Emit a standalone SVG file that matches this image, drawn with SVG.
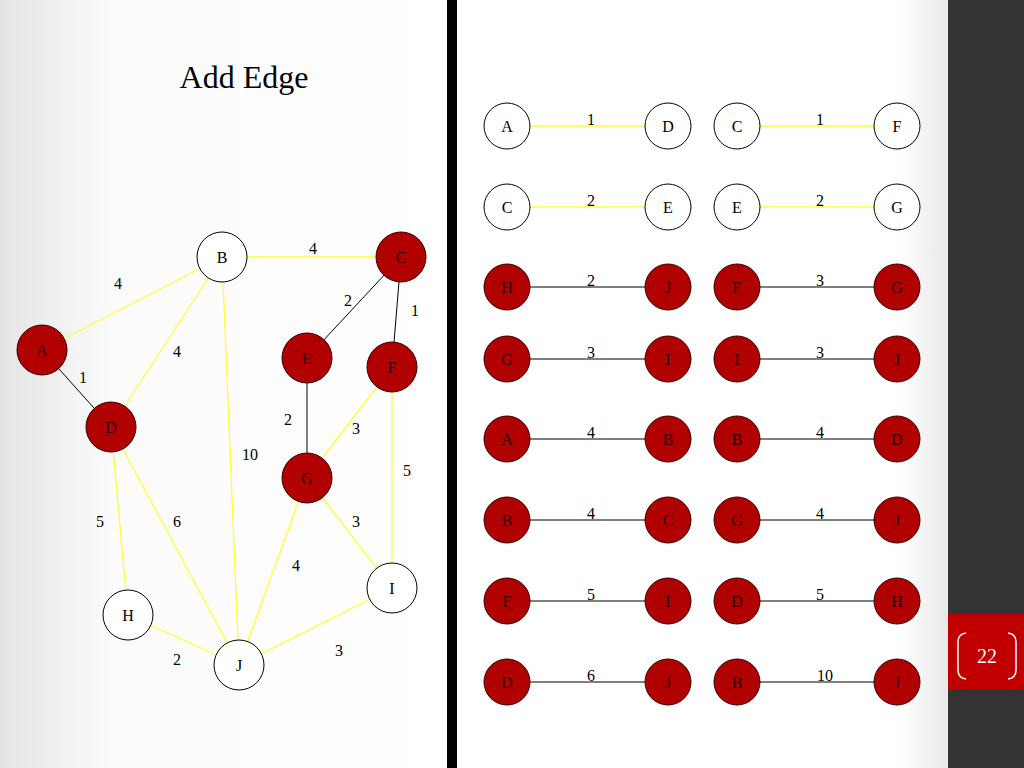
<svg xmlns="http://www.w3.org/2000/svg" width="1024" height="768" viewBox="0 0 1024 768">
<defs>
<linearGradient id="bgL" x1="0" y1="0" x2="1" y2="0">
<stop offset="0" stop-color="#e4e4e4"/><stop offset="0.25" stop-color="#fbfbfb"/><stop offset="1" stop-color="#ffffff"/>
</linearGradient>
<linearGradient id="bgR" x1="0" y1="0" x2="1" y2="0">
<stop offset="0" stop-color="#ffffff"/><stop offset="0.9" stop-color="#ffffff"/><stop offset="1" stop-color="#e8e8e8"/>
</linearGradient>
<style>
.w{fill:#ffffff;stroke:#000;stroke-width:1}
.r{fill:#b00000;stroke:#300;stroke-width:1}
.t{font-family:"Liberation Serif",serif;font-size:16px;text-anchor:middle;fill:#000}
.tr{font-family:"Liberation Serif",serif;font-size:16px;text-anchor:middle;fill:#2a0000}
.y{stroke:#ffff33;stroke-width:1.3;fill:none}
.k{stroke:#000;stroke-width:1;fill:none}
.lb{font-family:"Liberation Serif",serif;font-size:16px;text-anchor:middle;fill:#000}
</style>
</defs>
<rect x="0" y="0" width="447" height="768" fill="url(#bgL)"/>
<rect x="457" y="0" width="491" height="768" fill="url(#bgR)"/>
<rect x="447" y="0" width="10" height="768" fill="#000"/>
<rect x="948" y="0" width="76" height="768" fill="#333333"/>
<rect x="948" y="614" width="76" height="76" fill="#c00000"/>
<path d="M966,633 Q958,634 958,642 L958,670 Q958,678 966,679" fill="none" stroke="#fff" stroke-width="1.5"/>
<path d="M1008,633 Q1016,634 1016,642 L1016,670 Q1016,678 1008,679" fill="none" stroke="#fff" stroke-width="1.5"/>
<text x="987" y="663" font-family="Liberation Serif,serif" font-size="20" fill="#fff" text-anchor="middle">22</text>
<text x="244" y="88" font-family="Liberation Serif,serif" font-size="32" fill="#000" text-anchor="middle">Add Edge</text>

<g id="connectors">
<line class="y" x1="42" y1="350" x2="222" y2="257"/>
<line class="k" x1="42" y1="350" x2="111" y2="427"/>
<line class="y" x1="222" y1="257" x2="111" y2="427"/>
<line class="y" x1="222" y1="257" x2="401" y2="257"/>
<line class="y" x1="222" y1="257" x2="239" y2="665"/>
<line class="k" x1="401" y1="257" x2="307" y2="358"/>
<line class="k" x1="401" y1="257" x2="392" y2="367"/>
<line class="k" x1="307" y1="358" x2="307" y2="478"/>
<line class="y" x1="392" y1="367" x2="307" y2="478"/>
<line class="y" x1="392" y1="367" x2="392" y2="588"/>
<line class="y" x1="307" y1="478" x2="392" y2="588"/>
<line class="y" x1="307" y1="478" x2="239" y2="665"/>
<line class="y" x1="111" y1="427" x2="128" y2="615"/>
<line class="y" x1="111" y1="427" x2="239" y2="665"/>
<line class="y" x1="128" y1="615" x2="239" y2="665"/>
<line class="y" x1="239" y1="665" x2="392" y2="588"/>
<line class="y" x1="508" y1="126" x2="669" y2="126"/>
<line class="y" x1="739" y1="126" x2="898" y2="126"/>
<line class="y" x1="508" y1="207" x2="669" y2="207"/>
<line class="y" x1="739" y1="207" x2="898" y2="207"/>
<line class="k" x1="508" y1="287" x2="669" y2="287"/>
<line class="k" x1="739" y1="287" x2="898" y2="287"/>
<line class="k" x1="508" y1="359" x2="669" y2="359"/>
<line class="k" x1="739" y1="359" x2="898" y2="359"/>
<line class="k" x1="508" y1="439" x2="669" y2="439"/>
<line class="k" x1="739" y1="439" x2="898" y2="439"/>
<line class="k" x1="508" y1="520" x2="669" y2="520"/>
<line class="k" x1="739" y1="520" x2="898" y2="520"/>
<line class="k" x1="508" y1="601" x2="669" y2="601"/>
<line class="k" x1="739" y1="601" x2="898" y2="601"/>
<line class="k" x1="508" y1="682" x2="669" y2="682"/>
<line class="k" x1="739" y1="682" x2="898" y2="682"/>
</g>

<g id="edge-labels">
<text class="lb" x="118" y="289">4</text>
<text class="lb" x="83" y="383">1</text>
<text class="lb" x="177" y="357">4</text>
<text class="lb" x="313" y="254">4</text>
<text class="lb" x="250" y="460">10</text>
<text class="lb" x="348" y="306">2</text>
<text class="lb" x="415" y="316">1</text>
<text class="lb" x="288" y="425">2</text>
<text class="lb" x="356" y="434">3</text>
<text class="lb" x="407" y="476">5</text>
<text class="lb" x="356" y="527">3</text>
<text class="lb" x="296" y="571">4</text>
<text class="lb" x="100" y="527">5</text>
<text class="lb" x="177" y="527">6</text>
<text class="lb" x="177" y="665">2</text>
<text class="lb" x="339" y="656">3</text>
<text class="lb" x="591" y="125">1</text>
<text class="lb" x="820" y="125">1</text>
<text class="lb" x="591" y="206">2</text>
<text class="lb" x="820" y="206">2</text>
<text class="lb" x="591" y="286">2</text>
<text class="lb" x="820" y="286">3</text>
<text class="lb" x="591" y="358">3</text>
<text class="lb" x="820" y="358">3</text>
<text class="lb" x="591" y="438">4</text>
<text class="lb" x="820" y="438">4</text>
<text class="lb" x="591" y="519">4</text>
<text class="lb" x="820" y="519">4</text>
<text class="lb" x="591" y="600">5</text>
<text class="lb" x="820" y="600">5</text>
<text class="lb" x="591" y="681">6</text>
<text class="lb" x="825" y="681">10</text>
</g>

<g id="node-A"><circle class="r" cx="42" cy="350" r="25"/><text class="tr" x="42" y="356">A</text></g>
<g id="node-B"><circle class="w" cx="222" cy="257" r="25"/><text class="t" x="222" y="263">B</text></g>
<g id="node-C"><circle class="r" cx="401" cy="257" r="25"/><text class="tr" x="401" y="263">C</text></g>
<g id="node-D"><circle class="r" cx="111" cy="427" r="25"/><text class="tr" x="111" y="433">D</text></g>
<g id="node-E"><circle class="r" cx="307" cy="358" r="25"/><text class="tr" x="307" y="364">E</text></g>
<g id="node-F"><circle class="r" cx="392" cy="367" r="25"/><text class="tr" x="392" y="373">F</text></g>
<g id="node-G"><circle class="r" cx="307" cy="478" r="25"/><text class="tr" x="307" y="484">G</text></g>
<g id="node-H"><circle class="w" cx="128" cy="615" r="25"/><text class="t" x="128" y="621">H</text></g>
<g id="node-I"><circle class="w" cx="392" cy="588" r="25"/><text class="t" x="392" y="594">I</text></g>
<g id="node-J"><circle class="w" cx="239" cy="665" r="25"/><text class="t" x="239" y="671">J</text></g>

<g id="r1a"><circle class="w" cx="507" cy="126" r="23"/><text class="t" x="507" y="132">A</text></g>
<g id="r1b"><circle class="w" cx="668" cy="126" r="23"/><text class="t" x="668" y="132">D</text></g>
<g id="r1c"><circle class="w" cx="737" cy="126" r="23"/><text class="t" x="737" y="132">C</text></g>
<g id="r1d"><circle class="w" cx="897" cy="126" r="23"/><text class="t" x="897" y="132">F</text></g>
<g id="r2a"><circle class="w" cx="507" cy="207" r="23"/><text class="t" x="507" y="213">C</text></g>
<g id="r2b"><circle class="w" cx="668" cy="207" r="23"/><text class="t" x="668" y="213">E</text></g>
<g id="r2c"><circle class="w" cx="737" cy="207" r="23"/><text class="t" x="737" y="213">E</text></g>
<g id="r2d"><circle class="w" cx="897" cy="207" r="23"/><text class="t" x="897" y="213">G</text></g>
<g id="r3a"><circle class="r" cx="507" cy="287" r="23"/><text class="tr" x="507" y="293">H</text></g>
<g id="r3b"><circle class="r" cx="668" cy="287" r="23"/><text class="tr" x="668" y="293">J</text></g>
<g id="r3c"><circle class="r" cx="737" cy="287" r="23"/><text class="tr" x="737" y="293">F</text></g>
<g id="r3d"><circle class="r" cx="897" cy="287" r="23"/><text class="tr" x="897" y="293">G</text></g>
<g id="r4a"><circle class="r" cx="507" cy="359" r="23"/><text class="tr" x="507" y="365">G</text></g>
<g id="r4b"><circle class="r" cx="668" cy="359" r="23"/><text class="tr" x="668" y="365">I</text></g>
<g id="r4c"><circle class="r" cx="737" cy="359" r="23"/><text class="tr" x="737" y="365">I</text></g>
<g id="r4d"><circle class="r" cx="897" cy="359" r="23"/><text class="tr" x="897" y="365">J</text></g>
<g id="r5a"><circle class="r" cx="507" cy="439" r="23"/><text class="tr" x="507" y="445">A</text></g>
<g id="r5b"><circle class="r" cx="668" cy="439" r="23"/><text class="tr" x="668" y="445">B</text></g>
<g id="r5c"><circle class="r" cx="737" cy="439" r="23"/><text class="tr" x="737" y="445">B</text></g>
<g id="r5d"><circle class="r" cx="897" cy="439" r="23"/><text class="tr" x="897" y="445">D</text></g>
<g id="r6a"><circle class="r" cx="507" cy="520" r="23"/><text class="tr" x="507" y="526">B</text></g>
<g id="r6b"><circle class="r" cx="668" cy="520" r="23"/><text class="tr" x="668" y="526">C</text></g>
<g id="r6c"><circle class="r" cx="737" cy="520" r="23"/><text class="tr" x="737" y="526">G</text></g>
<g id="r6d"><circle class="r" cx="897" cy="520" r="23"/><text class="tr" x="897" y="526">J</text></g>
<g id="r7a"><circle class="r" cx="507" cy="601" r="23"/><text class="tr" x="507" y="607">F</text></g>
<g id="r7b"><circle class="r" cx="668" cy="601" r="23"/><text class="tr" x="668" y="607">I</text></g>
<g id="r7c"><circle class="r" cx="737" cy="601" r="23"/><text class="tr" x="737" y="607">D</text></g>
<g id="r7d"><circle class="r" cx="897" cy="601" r="23"/><text class="tr" x="897" y="607">H</text></g>
<g id="r8a"><circle class="r" cx="507" cy="682" r="23"/><text class="tr" x="507" y="688">D</text></g>
<g id="r8b"><circle class="r" cx="668" cy="682" r="23"/><text class="tr" x="668" y="688">J</text></g>
<g id="r8c"><circle class="r" cx="737" cy="682" r="23"/><text class="tr" x="737" y="688">B</text></g>
<g id="r8d"><circle class="r" cx="897" cy="682" r="23"/><text class="tr" x="897" y="688">J</text></g>
</svg>
